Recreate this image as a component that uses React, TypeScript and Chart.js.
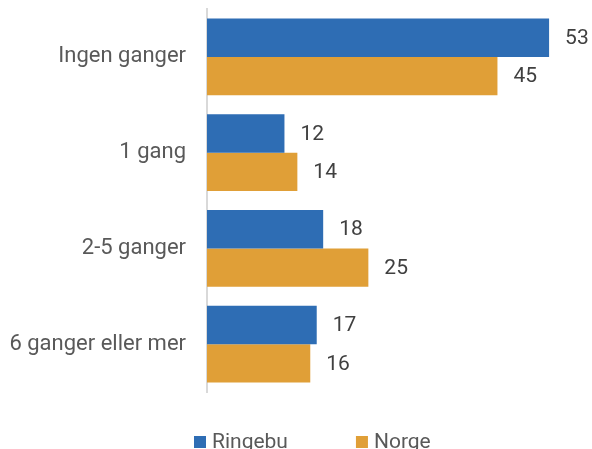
import React, { useEffect, useRef } from "react";
import { Chart, registerables } from "chart.js";

Chart.register(...registerables);

const categories = ["Ingen ganger", "1 gang", "2-5 ganger", "6 ganger eller mer"];
const seriesNames = ["Ringebu", "Norge"];
const ringebu = [53, 12, 18, 17];
const norge = [45, 14, 25, 16];
const seriesColors = ["#2E6DB4", "#E09F37"];

const FONT = "Roboto, 'Liberation Sans', sans-serif";

const valueLabels = {
  id: "valueLabels",
  afterDatasetsDraw(chart: any) {
    const ctx = chart.ctx;
    ctx.save();
    ctx.font = `21px ${FONT}`;
    ctx.fillStyle = "#404040";
    ctx.textAlign = "left";
    ctx.textBaseline = "middle";
    chart.data.datasets.forEach((ds: any, i: number) => {
      const meta = chart.getDatasetMeta(i);
      meta.data.forEach((el: any, j: number) => {
        ctx.fillText(String(ds.data[j]), el.x + 16, el.y + 1);
      });
    });
    ctx.restore();
  },
};

const customLegend = {
  id: "customLegend",
  afterDraw(chart: any) {
    const ctx = chart.ctx;
    ctx.save();
    ctx.font = `21px ${FONT}`;
    ctx.textAlign = "left";
    ctx.textBaseline = "alphabetic";
    let x = 194;
    const boxTop = 436;
    const baseline = 448;
    chart.data.datasets.forEach((ds: any) => {
      ctx.fillStyle = ds.backgroundColor;
      ctx.fillRect(x, boxTop, 12, 12);
      ctx.fillStyle = "#595959";
      ctx.fillText(ds.label, x + 18, baseline);
      const w = ctx.measureText(ds.label).width;
      x += 18 + w + 68;
    });
    ctx.restore();
  },
};

export default function App() {
  const ref = useRef<HTMLCanvasElement>(null);
  useEffect(() => {
    if (!ref.current) return;
    const chart = new Chart(ref.current, {
      type: "bar",
      data: {
        labels: categories,
        datasets: [
          { label: seriesNames[0], data: ringebu, backgroundColor: seriesColors[0] },
          { label: seriesNames[1], data: norge, backgroundColor: seriesColors[1] },
        ],
      },
      options: {
        indexAxis: "y",
        animation: false,
        responsive: false,
        maintainAspectRatio: false,
        layout: { padding: { top: 9, bottom: 57, left: 0, right: 30 } },
        datasets: { bar: { categoryPercentage: 0.8, barPercentage: 1 } },
        scales: {
          x: { display: false, min: 0, max: 55 },
          y: {
            afterFit(scale: any) {
              scale.width = 207;
              scale.paddingTop = 0;
              scale.paddingBottom = 0;
            },
            grid: { display: false, drawTicks: false },
            border: { display: true, color: "#d9d9d9", width: 2 },
            ticks: {
              padding: 21,
              color: "#595959",
              font: { family: FONT, size: 22 },
            },
          },
        },
        plugins: {
          legend: { display: false },
          tooltip: { enabled: false },
        },
      },
      plugins: [valueLabels, customLegend],
    } as any);
    return () => chart.destroy();
  }, []);
  return (
    <div style={{ position: "absolute", left: 0, top: 0, width: 592, height: 449, overflow: "hidden", background: "#fff" }}>
      <canvas ref={ref} width={592} height={449} style={{ display: "block", width: 592, height: 449 }} />
    </div>
  );
}
